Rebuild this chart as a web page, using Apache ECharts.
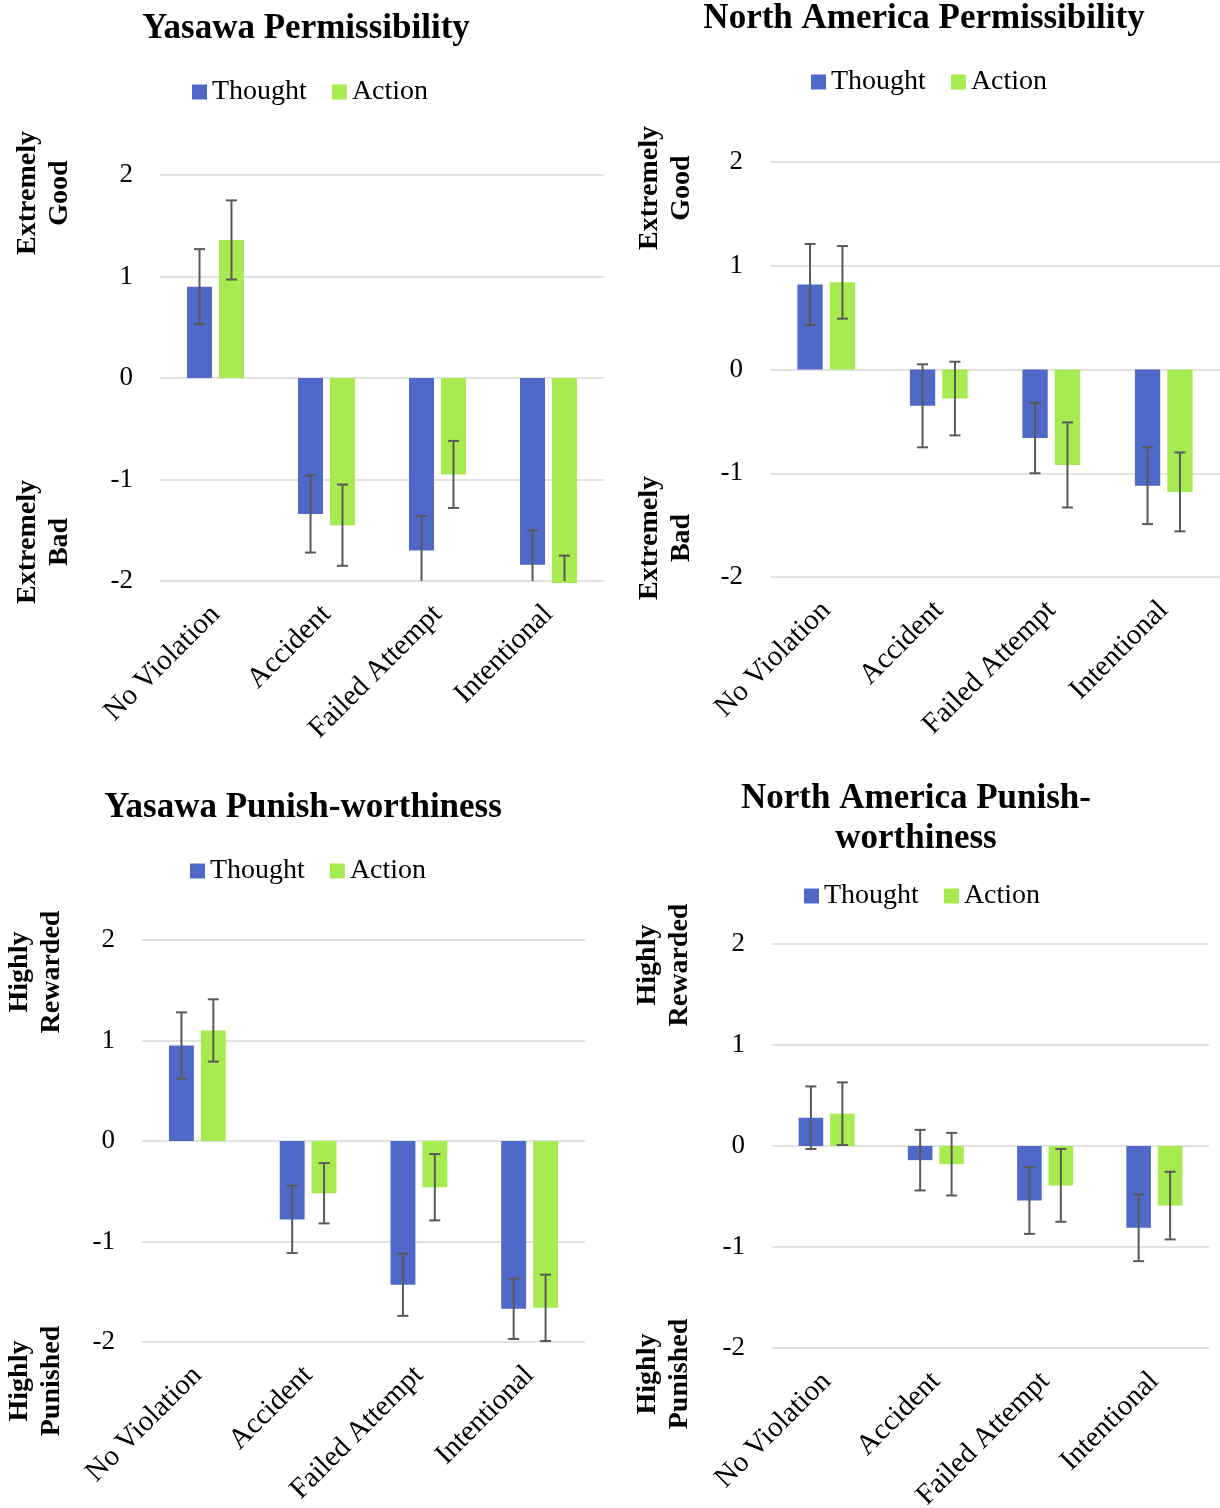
<!DOCTYPE html>
<html>
<head>
<meta charset="utf-8">
<script src="https://cdn.jsdelivr.net/npm/echarts@6/dist/echarts.min.js"></script>
<style>
  html, body { margin: 0; padding: 0; background: #fff; }
  #chart { width: 1220px; height: 1508px; }
</style>
</head>
<body>
<div id="chart"></div>
<script>
// categories shared by all four panels
const categories = ['No Violation', 'Accident', 'Failed Attempt', 'Intentional'];
const seriesNames = ['Thought', 'Action'];
const yTicks = [-2, -1, 0, 1, 2];

// Yasawa permissibility
const yasawaPermThought = [0.90, -1.34, -1.70, -1.84];
const yasawaPermThoughtErr = [0.37, 0.38, 0.34, 0.34];
const yasawaPermAction = [1.36, -1.45, -0.95, -2.02];
const yasawaPermActionErr = [0.39, 0.40, 0.33, 0.27];

// North America permissibility
const naPermThought = [0.82, -0.35, -0.66, -1.12];
const naPermThoughtErr = [0.39, 0.40, 0.34, 0.37];
const naPermAction = [0.84, -0.28, -0.92, -1.18];
const naPermActionErr = [0.35, 0.355, 0.41, 0.38];

// Yasawa punish-worthiness
const yasawaPunThought = [0.95, -0.78, -1.43, -1.67];
const yasawaPunThoughtErr = [0.33, 0.335, 0.31, 0.30];
const yasawaPunAction = [1.10, -0.52, -0.46, -1.66];
const yasawaPunActionErr = [0.31, 0.30, 0.33, 0.33];

// North America punish-worthiness
const naPunThought = [0.28, -0.14, -0.54, -0.81];
const naPunThoughtErr = [0.31, 0.30, 0.33, 0.33];
const naPunAction = [0.32, -0.18, -0.39, -0.59];
const naPunActionErr = [0.31, 0.31, 0.36, 0.335];

const FONT = '"Liberation Serif", "Times New Roman", serif';
const BLUE = '#5068C8';
const GREEN = '#A8EB50';
const BAR_W = 0.225;   // share of category band
const BAR_GAP = 0.28;  // share of bar width

const panels = [
  {
    title: 'Yasawa Permissibility', titleX: 306, titleY: 29,
    legendLeft: 187, legendY: 87,
    grid: { left: 160, top: 175, width: 444, height: 406 },
    top: 'Extremely\nGood', topPos: [44, 193],
    bottom: 'Extremely\nBad', bottomPos: [44, 542],
    thought: yasawaPermThought, thoughtErr: yasawaPermThoughtErr,
    action: yasawaPermAction, actionErr: yasawaPermActionErr
  },
  {
    title: 'North America Permissibility', titleX: 924, titleY: 19,
    legendLeft: 806, legendY: 77,
    grid: { left: 770, top: 162, width: 450, height: 415 },
    top: 'Extremely\nGood', topPos: [666, 188],
    bottom: 'Extremely\nBad', bottomPos: [666, 538],
    thought: naPermThought, thoughtErr: naPermThoughtErr,
    action: naPermAction, actionErr: naPermActionErr
  },
  {
    title: 'Yasawa Punish-worthiness', titleX: 303, titleY: 808,
    legendLeft: 185, legendY: 866,
    grid: { left: 142, top: 940, width: 443, height: 402 },
    top: 'Highly\nRewarded', topPos: [36, 972],
    bottom: 'Highly\nPunished', bottomPos: [36, 1381],
    thought: yasawaPunThought, thoughtErr: yasawaPunThoughtErr,
    action: yasawaPunAction, actionErr: yasawaPunActionErr
  },
  {
    title: 'North America Punish-\nworthiness', titleX: 916, titleY: 819,
    legendLeft: 799, legendY: 891,
    grid: { left: 772, top: 944, width: 437, height: 404 },
    top: 'Highly\nRewarded', topPos: [664, 965],
    bottom: 'Highly\nPunished', bottomPos: [664, 1374],
    thought: naPunThought, thoughtErr: naPunThoughtErr,
    action: naPunAction, actionErr: naPunActionErr
  }
];

// error bar drawn at the bar's offset inside the category band
function errorBar(sign) {
  return function (params, api) {
    const cat = api.value(0);
    const band = api.size([1, 0])[0];
    const bw = band * BAR_W;
    const off = sign * (bw + bw * BAR_GAP) / 2;
    const hi = api.coord([cat, api.value(2)]);
    const lo = api.coord([cat, api.value(1)]);
    const x = hi[0] + off;
    const cap = 5.5;
    const style = { stroke: '#595959', lineWidth: 2 };
    return {
      type: 'group',
      children: [
        { type: 'line', shape: { x1: x, y1: hi[1], x2: x, y2: lo[1] }, style: style },
        { type: 'line', shape: { x1: x - cap, y1: hi[1], x2: x + cap, y2: hi[1] }, style: style },
        { type: 'line', shape: { x1: x - cap, y1: lo[1], x2: x + cap, y2: lo[1] }, style: style }
      ]
    };
  };
}

function errData(means, errs) {
  return means.map(function (m, i) { return [i, m - errs[i], m + errs[i]]; });
}

function textEl(text, x, y, size, rotate, lineHeight) {
  return {
    type: 'text',
    x: x, y: y,
    rotation: rotate ? Math.PI / 2 : 0,
    style: {
      text: text,
      fill: '#000',
      font: 'bold ' + size + 'px ' + FONT,
      fontSize: size,
      fontWeight: 'bold',
      fontFamily: FONT,
      lineHeight: lineHeight,
      textAlign: 'center', align: 'center',
      textVerticalAlign: 'middle', verticalAlign: 'middle'
    }
  };
}

const grids = [], xAxes = [], yAxes = [], legends = [], series = [], graphics = [];

panels.forEach(function (p, i) {
  // keep the plot box fixed even when rotated labels reach the page edge
  grids.push(Object.assign({ containLabel: false, outerBoundsMode: 'none' }, p.grid));
  xAxes.push({
    type: 'category', gridIndex: i, data: categories,
    axisLine: { show: false }, axisTick: { show: false },
    axisLabel: { rotate: 45, interval: 0, margin: 29, color: '#000', fontSize: 29, fontFamily: FONT }
  });
  yAxes.push({
    type: 'value', gridIndex: i, min: yTicks[0], max: yTicks[yTicks.length - 1], interval: 1,
    axisLine: { show: false }, axisTick: { show: false },
    axisLabel: { margin: 27, color: '#000', fontSize: 27, fontFamily: FONT },
    splitLine: { lineStyle: { color: '#D9D9D9', width: 1.5 } }
  });
  legends.push({
    data: seriesNames, left: p.legendLeft, top: p.legendY - 14,
    icon: 'rect', itemWidth: 15, itemHeight: 15, itemGap: 25,
    textStyle: { color: '#000', fontSize: 28, fontFamily: FONT, lineHeight: 28 }
  });
  series.push(
    { name: 'Thought', type: 'bar', xAxisIndex: i, yAxisIndex: i, data: p.thought,
      barWidth: (BAR_W * 100) + '%', barGap: (BAR_GAP * 100) + '%', clip: false,
      itemStyle: { color: BLUE }, z: 2 },
    { name: 'Action', type: 'bar', xAxisIndex: i, yAxisIndex: i, data: p.action,
      barWidth: (BAR_W * 100) + '%', barGap: (BAR_GAP * 100) + '%', clip: false,
      itemStyle: { color: GREEN }, z: 2 },
    { name: 'errThought', type: 'custom', xAxisIndex: i, yAxisIndex: i, clip: true,
      renderItem: errorBar(-1), data: errData(p.thought, p.thoughtErr), z: 5 },
    { name: 'errAction', type: 'custom', xAxisIndex: i, yAxisIndex: i, clip: true,
      renderItem: errorBar(1), data: errData(p.action, p.actionErr), z: 5 }
  );
  graphics.push(
    textEl(p.title, p.titleX, p.titleY, 35, false, 40),
    textEl(p.top, p.topPos[0], p.topPos[1], 28, true, 32),
    textEl(p.bottom, p.bottomPos[0], p.bottomPos[1], 28, true, 32)
  );
});

const myChart = echarts.init(document.getElementById('chart'));
myChart.setOption({
  animation: false,
  backgroundColor: '#fff',
  grid: grids,
  xAxis: xAxes,
  yAxis: yAxes,
  legend: legends,
  series: series,
  graphic: graphics
});
</script>
</body>
</html>
